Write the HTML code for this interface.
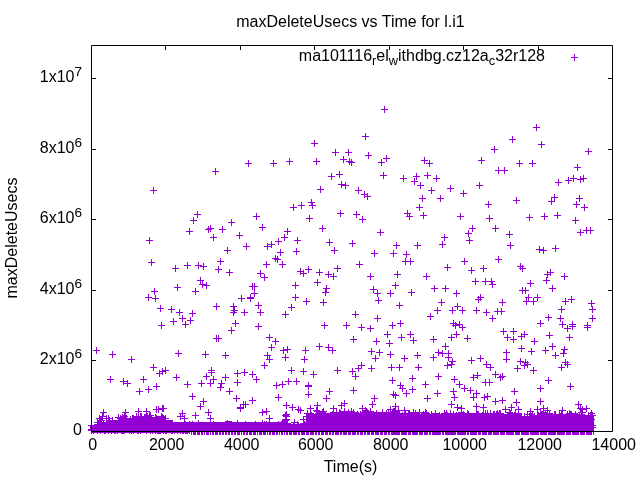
<!DOCTYPE html><html><head><meta charset="utf-8"><style>html,body{margin:0;padding:0;background:#fff;overflow:hidden}svg{display:block}text{font-family:"Liberation Sans",Arial,sans-serif;fill:#000}</style></head><body>
<svg width="640" height="480" viewBox="0 0 640 480">
<rect x="0" y="0" width="640" height="480" fill="#fff"/>
<path fill="none" stroke="#000" stroke-width="1" d="M165.5 431v-4M165.5 46v4M240.5 431v-4M240.5 46v4M314.5 431v-4M314.5 46v4M389.5 431v-4M389.5 46v4M463.5 431v-4M463.5 46v4M538.5 431v-4M538.5 46v4M92 360.5h4M612 360.5h-4M92 290.5h4M612 290.5h-4M92 219.5h4M612 219.5h-4M92 149.5h4M612 149.5h-4M92 78.5h4M612 78.5h-4"/>
<polygon fill="#9400d3" points="91,431 91,425 94,425 94,424 97,424 97,420 101,420 101,422 106,422 106,420 118,420 118,418 127,418 127,420 131,420 131,418 135,418 135,416 151,416 151,420 154,420 154,418 166,418 166,420 172,420 172,422 225,422 225,421 232,421 232,422 282,422 282,424 300,424 300,423 306,423 306,418 308,418 308,414 316,414 316,412 320,412 320,413 330,413 330,412 345,412 345,413 360,413 360,412 372,412 372,412 380,412 380,412 400,412 400,414 420,414 420,414 450,414 450,413 476,413 476,415 480,415 480,413 500,413 500,414 520,414 520,416 540,416 540,414 555,414 555,415 562,415 562,414 568,414 568,413 578,413 578,414 585,414 585,415 590,415 590,416 594,416 594,431"/>
<rect fill="#9400d3" x="90" y="425" width="1" height="6"/>
<path fill="none" stroke="#9400d3" stroke-width="1" d="M381 109.5h7M384.5 106v7M362 136.5h7M365.5 133v7M533 127.5h7M536.5 124v7M509 139.5h7M512.5 136v7M150 190.5h7M153.5 187v7M212 171.5h7M215.5 168v7M194 214.5h7M197.5 211v7M190 220.5h7M193.5 217v7M186 231.5h7M189.5 228v7M205 229.5h7M208.5 226v7M207 228.5h7M210.5 225v7M210 237.5h7M213.5 234v7M311 143.5h7M314.5 140v7M245 163.5h7M248.5 160v7M270 163.5h7M273.5 160v7M286 161.5h7M289.5 158v7M313 161.5h7M316.5 158v7M308 202.5h7M311.5 199v7M309 205.5h7M312.5 202v7M290 207.5h7M293.5 204v7M298 205.5h7M301.5 202v7M337 213.5h7M340.5 210v7M253 216.5h7M256.5 213v7M228 222.5h7M231.5 219v7M219 229.5h7M222.5 226v7M259 227.5h7M262.5 224v7M306 218.5h7M309.5 215v7M236 235.5h7M239.5 232v7M284 231.5h7M287.5 228v7M319 228.5h7M322.5 225v7M281 237.5h7M284.5 234v7M332 152.5h7M335.5 149v7M345 152.5h7M348.5 149v7M340 159.5h7M343.5 156v7M346 161.5h7M349.5 158v7M348 162.5h7M351.5 159v7M365 155.5h7M368.5 152v7M378 162.5h7M381.5 159v7M383 158.5h7M386.5 155v7M380 175.5h7M383.5 172v7M328 176.5h7M331.5 173v7M336 174.5h7M339.5 171v7M338 184.5h7M341.5 181v7M342 185.5h7M345.5 182v7M317 189.5h7M320.5 186v7M355 190.5h7M358.5 187v7M361 194.5h7M364.5 191v7M364 196.5h7M367.5 193v7M478 160.5h7M481.5 157v7M400 178.5h7M403.5 175v7M460 193.5h7M463.5 190v7M476 185.5h7M479.5 182v7M416 207.5h7M419.5 204v7M404 213.5h7M407.5 210v7M406 216.5h7M409.5 213v7M420 215.5h7M423.5 212v7M353 214.5h7M356.5 211v7M359 219.5h7M362.5 216v7M457 216.5h7M460.5 213v7M377 232.5h7M380.5 229v7M469 228.5h7M472.5 225v7M465 233.5h7M468.5 230v7M441 237.5h7M444.5 234v7M421 160.5h7M424.5 157v7M426 163.5h7M429.5 160v7M413 176.5h7M416.5 173v7M411 181.5h7M414.5 178v7M417 185.5h7M420.5 182v7M424 175.5h7M427.5 172v7M433 178.5h7M436.5 175v7M428 190.5h7M431.5 187v7M447 188.5h7M450.5 185v7M419 198.5h7M422.5 195v7M437 198.5h7M440.5 195v7M538 144.5h7M541.5 141v7M491 149.5h7M494.5 146v7M585 151.5h7M588.5 148v7M516 163.5h7M519.5 160v7M529 163.5h7M532.5 160v7M495 170.5h7M498.5 167v7M501 170.5h7M504.5 167v7M574 167.5h7M577.5 164v7M485 204.5h7M488.5 201v7M513 200.5h7M516.5 197v7M486 218.5h7M489.5 215v7M526 217.5h7M529.5 214v7M541 216.5h7M544.5 213v7M554 215.5h7M557.5 212v7M572 220.5h7M575.5 217v7M492 228.5h7M495.5 225v7M506 234.5h7M509.5 231v7M577 232.5h7M580.5 229v7M583 230.5h7M586.5 227v7M587 230.5h7M590.5 227v7M555 182.5h7M558.5 179v7M565 180.5h7M568.5 177v7M570 178.5h7M573.5 175v7M577 179.5h7M580.5 176v7M580 178.5h7M583.5 175v7M551 197.5h7M554.5 194v7M548 201.5h7M551.5 198v7M576 198.5h7M579.5 195v7M573 204.5h7M576.5 201v7M581 207.5h7M584.5 204v7M146 240.5h7M149.5 237v7M148 262.5h7M151.5 259v7M157 308.5h7M160.5 305v7M168 309.5h7M171.5 306v7M176 312.5h7M179.5 309v7M189 313.5h7M192.5 310v7M179 318.5h7M182.5 315v7M187 320.5h7M190.5 317v7M182 324.5h7M185.5 321v7M170 321.5h7M173.5 318v7M158 325.5h7M161.5 322v7M213 306.5h7M216.5 303v7M213 338.5h7M216.5 335v7M172 268.5h7M175.5 265v7M184 265.5h7M187.5 262v7M195 265.5h7M198.5 262v7M200 266.5h7M203.5 263v7M215 269.5h7M218.5 266v7M197 280.5h7M200.5 277v7M199 284.5h7M202.5 281v7M203 285.5h7M206.5 282v7M174 287.5h7M177.5 284v7M192 291.5h7M195.5 288v7M151 291.5h7M154.5 288v7M145 297.5h7M148.5 294v7M152 298.5h7M155.5 295v7M224 250.5h7M227.5 247v7M243 246.5h7M246.5 243v7M264 246.5h7M267.5 243v7M268 244.5h7M271.5 241v7M275 241.5h7M278.5 238v7M294 240.5h7M297.5 237v7M277 252.5h7M280.5 249v7M293 251.5h7M296.5 248v7M272 258.5h7M275.5 255v7M274 259.5h7M277.5 256v7M279 264.5h7M282.5 261v7M263 264.5h7M266.5 261v7M217 261.5h7M220.5 258v7M226 272.5h7M229.5 269v7M257 273.5h7M260.5 270v7M261 277.5h7M264.5 274v7M249 286.5h7M252.5 283v7M251 286.5h7M254.5 283v7M251 293.5h7M254.5 290v7M292 285.5h7M295.5 282v7M326 242.5h7M329.5 239v7M331 250.5h7M334.5 247v7M349 243.5h7M352.5 240v7M356 264.5h7M359.5 261v7M297 271.5h7M300.5 268v7M300 273.5h7M303.5 270v7M305 269.5h7M308.5 266v7M316 272.5h7M319.5 269v7M325 274.5h7M328.5 271v7M330 276.5h7M333.5 273v7M334 268.5h7M337.5 265v7M314 282.5h7M317.5 279v7M323 288.5h7M326.5 285v7M322 292.5h7M325.5 289v7M238 298.5h7M241.5 295v7M247 297.5h7M250.5 294v7M292 297.5h7M295.5 294v7M230 306.5h7M233.5 303v7M231 310.5h7M234.5 307v7M230 312.5h7M233.5 309v7M241 312.5h7M244.5 309v7M255 305.5h7M258.5 302v7M257 312.5h7M260.5 309v7M288 307.5h7M291.5 304v7M282 314.5h7M285.5 311v7M232 323.5h7M235.5 320v7M228 330.5h7M231.5 327v7M255 326.5h7M258.5 323v7M266 337.5h7M269.5 334v7M272 341.5h7M275.5 338v7M268 347.5h7M271.5 344v7M303 301.5h7M306.5 298v7M320 302.5h7M323.5 299v7M352 314.5h7M355.5 311v7M321 325.5h7M324.5 322v7M343 325.5h7M346.5 322v7M358 327.5h7M361.5 324v7M350 339.5h7M353.5 336v7M316 346.5h7M319.5 343v7M325 347.5h7M328.5 344v7M439 244.5h7M442.5 241v7M393 245.5h7M396.5 242v7M414 245.5h7M417.5 242v7M371 253.5h7M374.5 250v7M390 253.5h7M393.5 250v7M403 254.5h7M406.5 251v7M402 261.5h7M405.5 258v7M407 261.5h7M410.5 258v7M367 276.5h7M370.5 273v7M394 274.5h7M397.5 271v7M423 276.5h7M426.5 273v7M392 285.5h7M395.5 282v7M370 289.5h7M373.5 286v7M374 293.5h7M377.5 290v7M387 293.5h7M390.5 290v7M408 292.5h7M411.5 289v7M431 288.5h7M434.5 285v7M442 288.5h7M445.5 285v7M466 240.5h7M469.5 237v7M507 245.5h7M510.5 242v7M461 261.5h7M464.5 258v7M495 259.5h7M498.5 256v7M444 267.5h7M447.5 264v7M468 270.5h7M471.5 267v7M480 268.5h7M483.5 265v7M517 266.5h7M520.5 263v7M519 268.5h7M522.5 265v7M472 281.5h7M475.5 278v7M482 281.5h7M485.5 278v7M488 281.5h7M491.5 278v7M489 284.5h7M492.5 281v7M453 293.5h7M456.5 290v7M519 290.5h7M522.5 287v7M536 249.5h7M539.5 246v7M540 250.5h7M543.5 247v7M552 248.5h7M555.5 245v7M547 272.5h7M550.5 269v7M544 274.5h7M547.5 271v7M543 280.5h7M546.5 277v7M561 276.5h7M564.5 273v7M527 283.5h7M530.5 280v7M549 288.5h7M552.5 285v7M522 290.5h7M525.5 287v7M215 338.5h7M218.5 335v7M175 353.5h7M178.5 350v7M202 354.5h7M205.5 351v7M93 350.5h7M96.5 347v7M109 354.5h7M112.5 351v7M128 359.5h7M131.5 356v7M150 367.5h7M153.5 364v7M156 373.5h7M159.5 370v7M159 371.5h7M162.5 368v7M162 370.5h7M165.5 367v7M107 379.5h7M110.5 376v7M120 381.5h7M123.5 378v7M124 383.5h7M127.5 380v7M140 379.5h7M143.5 376v7M153 386.5h7M156.5 383v7M145 389.5h7M148.5 386v7M136 391.5h7M139.5 388v7M222 355.5h7M225.5 352v7M173 377.5h7M176.5 374v7M184 384.5h7M187.5 381v7M189 396.5h7M192.5 393v7M198 383.5h7M201.5 380v7M203 376.5h7M206.5 373v7M208 370.5h7M211.5 367v7M208 372.5h7M211.5 369v7M210 379.5h7M213.5 376v7M207 383.5h7M210.5 380v7M222 377.5h7M225.5 374v7M218 383.5h7M221.5 380v7M217 387.5h7M220.5 384v7M226 391.5h7M229.5 388v7M234 373.5h7M237.5 370v7M234 382.5h7M237.5 379v7M233 398.5h7M236.5 395v7M280 350.5h7M283.5 347v7M284 349.5h7M287.5 346v7M302 350.5h7M305.5 347v7M264 355.5h7M267.5 352v7M266 359.5h7M269.5 356v7M282 357.5h7M285.5 354v7M301 359.5h7M304.5 356v7M261 365.5h7M264.5 362v7M241 372.5h7M244.5 369v7M249 374.5h7M252.5 371v7M253 379.5h7M256.5 376v7M288 370.5h7M291.5 367v7M300 371.5h7M303.5 368v7M310 374.5h7M313.5 371v7M285 381.5h7M288.5 378v7M293 381.5h7M296.5 378v7M273 385.5h7M276.5 382v7M279 384.5h7M282.5 381v7M305 385.5h7M308.5 382v7M305 386.5h7M308.5 383v7M305 394.5h7M308.5 391v7M275 397.5h7M278.5 394v7M329 350.5h7M332.5 347v7M373 341.5h7M376.5 338v7M368 351.5h7M371.5 348v7M376 352.5h7M379.5 349v7M372 358.5h7M375.5 355v7M358 365.5h7M361.5 362v7M355 368.5h7M358.5 365v7M349 371.5h7M352.5 368v7M352 376.5h7M355.5 373v7M368 368.5h7M371.5 365v7M334 370.5h7M337.5 367v7M326 391.5h7M329.5 388v7M350 390.5h7M353.5 387v7M323 398.5h7M326.5 395v7M371 398.5h7M374.5 395v7M375 300.5h7M378.5 297v7M396 305.5h7M399.5 302v7M438 302.5h7M441.5 299v7M434 310.5h7M437.5 307v7M427 316.5h7M430.5 313v7M374 318.5h7M377.5 315v7M389 325.5h7M392.5 322v7M397 323.5h7M400.5 320v7M367 328.5h7M370.5 325v7M384 334.5h7M387.5 331v7M398 337.5h7M401.5 334v7M407 334.5h7M410.5 331v7M410 340.5h7M413.5 337v7M386 343.5h7M389.5 340v7M430 339.5h7M433.5 336v7M442 346.5h7M445.5 343v7M475 299.5h7M478.5 296v7M477 297.5h7M480.5 294v7M499 302.5h7M502.5 299v7M454 306.5h7M457.5 303v7M449 310.5h7M452.5 307v7M459 310.5h7M462.5 307v7M473 310.5h7M476.5 307v7M483 312.5h7M486.5 309v7M494 311.5h7M497.5 308v7M498 311.5h7M501.5 308v7M489 318.5h7M492.5 315v7M450 323.5h7M453.5 320v7M452 325.5h7M455.5 322v7M456 324.5h7M459.5 321v7M459 327.5h7M462.5 324v7M453 334.5h7M456.5 331v7M448 337.5h7M451.5 334v7M464 338.5h7M467.5 335v7M500 331.5h7M503.5 328v7M510 331.5h7M513.5 328v7M504 337.5h7M507.5 334v7M510 339.5h7M513.5 336v7M518 336.5h7M521.5 333v7M521 334.5h7M524.5 331v7M518 348.5h7M521.5 345v7M525 297.5h7M528.5 294v7M534 297.5h7M537.5 294v7M523 301.5h7M526.5 298v7M530 301.5h7M533.5 298v7M562 301.5h7M565.5 298v7M568 299.5h7M571.5 296v7M588 303.5h7M591.5 300v7M558 309.5h7M561.5 306v7M589 309.5h7M592.5 306v7M545 317.5h7M548.5 314v7M557 318.5h7M560.5 315v7M589 318.5h7M592.5 315v7M537 323.5h7M540.5 320v7M559 324.5h7M562.5 321v7M569 324.5h7M572.5 321v7M564 328.5h7M567.5 325v7M569 326.5h7M572.5 323v7M584 325.5h7M587.5 322v7M584 327.5h7M587.5 324v7M546 335.5h7M549.5 332v7M566 337.5h7M569.5 334v7M531 341.5h7M534.5 338v7M549 346.5h7M552.5 343v7M561 349.5h7M564.5 346v7M387 354.5h7M390.5 351v7M401 358.5h7M404.5 355v7M414 355.5h7M417.5 352v7M430 357.5h7M433.5 354v7M435 352.5h7M438.5 349v7M439 353.5h7M442.5 350v7M445 353.5h7M448.5 350v7M445 357.5h7M448.5 354v7M449 361.5h7M452.5 358v7M444 365.5h7M447.5 362v7M448 364.5h7M451.5 361v7M388 367.5h7M391.5 364v7M396 367.5h7M399.5 364v7M415 367.5h7M418.5 364v7M389 380.5h7M392.5 377v7M409 378.5h7M412.5 375v7M435 376.5h7M438.5 373v7M451 379.5h7M454.5 376v7M456 384.5h7M459.5 381v7M422 384.5h7M425.5 381v7M397 385.5h7M400.5 382v7M399 388.5h7M402.5 385v7M409 389.5h7M412.5 386v7M403 393.5h7M406.5 390v7M390 394.5h7M393.5 391v7M392 395.5h7M395.5 392v7M434 393.5h7M437.5 390v7M450 391.5h7M453.5 388v7M451 397.5h7M454.5 394v7M424 398.5h7M427.5 395v7M528 351.5h7M531.5 348v7M503 352.5h7M506.5 349v7M503 359.5h7M506.5 356v7M468 360.5h7M471.5 357v7M477 358.5h7M480.5 355v7M483 364.5h7M486.5 361v7M487 367.5h7M490.5 364v7M517 361.5h7M520.5 358v7M522 362.5h7M525.5 359v7M524 364.5h7M527.5 361v7M521 365.5h7M524.5 362v7M514 368.5h7M517.5 365v7M530 370.5h7M533.5 367v7M492 374.5h7M495.5 371v7M497 377.5h7M500.5 374v7M499 376.5h7M502.5 373v7M470 377.5h7M473.5 374v7M474 375.5h7M477.5 372v7M482 382.5h7M485.5 379v7M486 382.5h7M489.5 379v7M461 388.5h7M464.5 385v7M467 390.5h7M470.5 387v7M473 393.5h7M476.5 390v7M470 397.5h7M473.5 394v7M481 397.5h7M484.5 394v7M484 396.5h7M487.5 393v7M511 391.5h7M514.5 388v7M542 350.5h7M545.5 347v7M552 355.5h7M555.5 352v7M560 353.5h7M563.5 350v7M562 362.5h7M565.5 359v7M564 364.5h7M567.5 361v7M558 367.5h7M561.5 364v7M545 380.5h7M548.5 377v7M567 386.5h7M570.5 383v7M537 388.5h7M540.5 385v7M247 298.5h7M250.5 295v7M100 412.5h7M103.5 409v7M122 412.5h7M125.5 409v7M135 411.5h7M138.5 408v7M143 411.5h7M146.5 408v7M153 409.5h7M156.5 406v7M155 409.5h7M158.5 406v7M159 408.5h7M162.5 405v7M96 418.5h7M99.5 415v7M99 416.5h7M102.5 413v7M200 401.5h7M203.5 398v7M197 406.5h7M200.5 403v7M160 408.5h7M163.5 405v7M237 408.5h7M240.5 405v7M205 412.5h7M208.5 409v7M192 415.5h7M195.5 412v7M207 418.5h7M210.5 415v7M179 413.5h7M182.5 410v7M177 416.5h7M180.5 413v7M181 418.5h7M184.5 415v7M158 416.5h7M161.5 413v7M249 400.5h7M252.5 397v7M240 404.5h7M243.5 401v7M242 404.5h7M245.5 401v7M237 407.5h7M240.5 404v7M283 405.5h7M286.5 402v7M289 407.5h7M292.5 404v7M295 409.5h7M298.5 406v7M297 410.5h7M300.5 407v7M307 408.5h7M310.5 405v7M304 413.5h7M307.5 410v7M259 412.5h7M262.5 409v7M263 411.5h7M266.5 408v7M266 418.5h7M269.5 415v7M282 415.5h7M285.5 412v7M282 419.5h7M285.5 416v7M300 419.5h7M303.5 416v7M314 405.5h7M317.5 402v7M341 403.5h7M344.5 400v7M338 405.5h7M341.5 402v7M369 404.5h7M372.5 401v7M359 408.5h7M362.5 405v7M330 408.5h7M333.5 405v7M448 404.5h7M451.5 401v7M392 406.5h7M395.5 403v7M454 407.5h7M457.5 404v7M458 408.5h7M461.5 405v7M401 410.5h7M404.5 407v7M387 409.5h7M390.5 406v7M492 401.5h7M495.5 398v7M499 400.5h7M502.5 397v7M513 402.5h7M516.5 399v7M537 401.5h7M540.5 398v7M473 406.5h7M476.5 403v7M480 407.5h7M483.5 404v7M508 407.5h7M511.5 404v7M502 409.5h7M505.5 406v7M515 409.5h7M518.5 406v7M527 411.5h7M530.5 408v7M534 409.5h7M537.5 406v7M575 404.5h7M578.5 401v7M577 408.5h7M580.5 405v7M583 408.5h7M586.5 405v7M579 409.5h7M582.5 406v7M559 410.5h7M562.5 407v7M544 410.5h7M547.5 407v7M540 408.5h7M543.5 405v7M88 425.5h7M91.5 422v7M88 429.5h7M91.5 426v7M88 430.5h7M91.5 427v7M283 414.5h7M286.5 411v7M282 415.5h7M285.5 412v7M283 416.5h7M286.5 413v7M283 419.5h7M286.5 416v7M282 420.5h7M285.5 417v7M94 422.5h7M97.5 419v7M97 420.5h7M100.5 417v7M98 420.5h7M101.5 417v7M100 424.5h7M103.5 421v7M103 418.5h7M106.5 415v7M105 418.5h7M108.5 415v7M106 420.5h7M109.5 417v7M109 420.5h7M112.5 417v7M115 417.5h7M118.5 414v7M117 418.5h7M120.5 415v7M119 417.5h7M122.5 414v7M120 418.5h7M123.5 415v7M121 416.5h7M124.5 413v7M123 418.5h7M126.5 415v7M125 421.5h7M128.5 418v7M127 419.5h7M130.5 416v7M129 418.5h7M132.5 415v7M130 418.5h7M133.5 415v7M131 419.5h7M134.5 416v7M133 416.5h7M136.5 413v7M135 418.5h7M138.5 415v7M137 416.5h7M140.5 413v7M138 416.5h7M141.5 413v7M141 417.5h7M144.5 414v7M142 417.5h7M145.5 414v7M144 416.5h7M147.5 413v7M146 415.5h7M149.5 412v7M147 415.5h7M150.5 412v7M148 419.5h7M151.5 416v7M149 420.5h7M152.5 417v7M150 421.5h7M153.5 418v7M152 417.5h7M155.5 414v7M153 418.5h7M156.5 415v7M154 419.5h7M157.5 416v7M155 420.5h7M158.5 417v7M156 420.5h7M159.5 417v7M158 419.5h7M161.5 416v7M159 417.5h7M162.5 414v7M160 418.5h7M163.5 415v7M162 418.5h7M165.5 415v7M163 424.5h7M166.5 421v7M165 423.5h7M168.5 420v7M169 423.5h7M172.5 420v7M171 426.5h7M174.5 423v7M173 425.5h7M176.5 422v7M178 425.5h7M181.5 422v7M182 424.5h7M185.5 421v7M184 425.5h7M187.5 422v7M186 424.5h7M189.5 421v7M187 425.5h7M190.5 422v7M189 424.5h7M192.5 421v7M190 425.5h7M193.5 422v7M195 423.5h7M198.5 420v7M200 425.5h7M203.5 422v7M206 425.5h7M209.5 422v7M208 426.5h7M211.5 423v7M210 424.5h7M213.5 421v7M223 425.5h7M226.5 422v7M224 423.5h7M227.5 420v7M232 425.5h7M235.5 422v7M233 425.5h7M236.5 422v7M234 423.5h7M237.5 420v7M235 426.5h7M238.5 423v7M236 425.5h7M239.5 422v7M241 425.5h7M244.5 422v7M242 424.5h7M245.5 421v7M247 425.5h7M250.5 422v7M249 425.5h7M252.5 422v7M252 424.5h7M255.5 421v7M256 425.5h7M259.5 422v7M259 423.5h7M262.5 420v7M261 424.5h7M264.5 421v7M262 425.5h7M265.5 422v7M263 424.5h7M266.5 421v7M273 425.5h7M276.5 422v7M274 426.5h7M277.5 423v7M275 424.5h7M278.5 421v7M278 424.5h7M281.5 421v7M279 424.5h7M282.5 421v7M280 424.5h7M283.5 421v7M281 423.5h7M284.5 420v7M284 423.5h7M287.5 420v7M290 426.5h7M293.5 423v7M291 422.5h7M294.5 419v7M294 424.5h7M297.5 421v7M295 425.5h7M298.5 422v7M300 423.5h7M303.5 420v7M301 424.5h7M304.5 421v7M302 425.5h7M305.5 422v7M303 416.5h7M306.5 413v7M304 419.5h7M307.5 416v7M307 413.5h7M310.5 410v7M308 415.5h7M311.5 412v7M313 410.5h7M316.5 407v7M314 411.5h7M317.5 408v7M315 413.5h7M318.5 410v7M319 412.5h7M322.5 409v7M320 411.5h7M323.5 408v7M321 414.5h7M324.5 411v7M329 414.5h7M332.5 411v7M333 412.5h7M336.5 409v7M336 412.5h7M339.5 409v7M337 413.5h7M340.5 410v7M341 411.5h7M344.5 408v7M345 412.5h7M348.5 409v7M348 411.5h7M351.5 408v7M350 412.5h7M353.5 409v7M353 415.5h7M356.5 412v7M354 414.5h7M357.5 411v7M355 415.5h7M358.5 412v7M357 414.5h7M360.5 411v7M359 413.5h7M362.5 410v7M362 410.5h7M365.5 407v7M363 411.5h7M366.5 408v7M364 412.5h7M367.5 409v7M365 413.5h7M368.5 410v7M366 414.5h7M369.5 411v7M367 411.5h7M370.5 408v7M373 413.5h7M376.5 410v7M379 412.5h7M382.5 409v7M383 413.5h7M386.5 410v7M385 413.5h7M388.5 410v7M387 412.5h7M390.5 409v7M389 412.5h7M392.5 409v7M390 411.5h7M393.5 408v7M391 411.5h7M394.5 408v7M392 413.5h7M395.5 410v7M395 410.5h7M398.5 407v7M396 413.5h7M399.5 410v7M399 415.5h7M402.5 412v7M402 413.5h7M405.5 410v7M404 416.5h7M407.5 413v7M405 413.5h7M408.5 410v7M406 413.5h7M409.5 410v7M410 412.5h7M413.5 409v7M411 416.5h7M414.5 413v7M412 413.5h7M415.5 410v7M413 416.5h7M416.5 413v7M414 415.5h7M417.5 412v7M415 415.5h7M418.5 412v7M416 412.5h7M419.5 409v7M418 416.5h7M421.5 413v7M419 415.5h7M422.5 412v7M420 414.5h7M423.5 411v7M422 412.5h7M425.5 409v7M423 413.5h7M426.5 410v7M428 414.5h7M431.5 411v7M432 413.5h7M435.5 410v7M436 415.5h7M439.5 412v7M441 413.5h7M444.5 410v7M442 415.5h7M445.5 412v7M443 413.5h7M446.5 410v7M444 415.5h7M447.5 412v7M447 413.5h7M450.5 410v7M450 414.5h7M453.5 411v7M453 415.5h7M456.5 412v7M458 412.5h7M461.5 409v7M460 414.5h7M463.5 411v7M464 413.5h7M467.5 410v7M465 414.5h7M468.5 411v7M473 413.5h7M476.5 410v7M474 414.5h7M477.5 411v7M475 414.5h7M478.5 411v7M479 415.5h7M482.5 412v7M480 414.5h7M483.5 411v7M482 413.5h7M485.5 410v7M484 413.5h7M487.5 410v7M487 413.5h7M490.5 410v7M490 414.5h7M493.5 411v7M491 414.5h7M494.5 411v7M493 414.5h7M496.5 411v7M494 413.5h7M497.5 410v7M495 415.5h7M498.5 412v7M496 413.5h7M499.5 410v7M497 413.5h7M500.5 410v7M504 415.5h7M507.5 412v7M506 412.5h7M509.5 409v7M507 413.5h7M510.5 410v7M508 416.5h7M511.5 413v7M509 415.5h7M512.5 412v7M511 415.5h7M514.5 412v7M512 413.5h7M515.5 410v7M515 413.5h7M518.5 410v7M517 417.5h7M520.5 414v7M518 416.5h7M521.5 413v7M521 416.5h7M524.5 413v7M524 414.5h7M527.5 411v7M526 416.5h7M529.5 413v7M527 414.5h7M530.5 411v7M528 416.5h7M531.5 413v7M529 415.5h7M532.5 412v7M531 416.5h7M534.5 413v7M533 418.5h7M536.5 415v7M534 417.5h7M537.5 414v7M535 415.5h7M538.5 412v7M537 413.5h7M540.5 410v7M538 414.5h7M541.5 411v7M539 414.5h7M542.5 411v7M540 413.5h7M543.5 410v7M541 415.5h7M544.5 412v7M542 413.5h7M545.5 410v7M543 415.5h7M546.5 412v7M546 413.5h7M549.5 410v7M547 416.5h7M550.5 413v7M551 414.5h7M554.5 411v7M552 414.5h7M555.5 411v7M556 414.5h7M559.5 411v7M557 416.5h7M560.5 413v7M558 414.5h7M561.5 411v7M559 416.5h7M562.5 413v7M564 414.5h7M567.5 411v7M566 413.5h7M569.5 410v7M567 414.5h7M570.5 411v7M568 414.5h7M571.5 411v7M572 414.5h7M575.5 411v7M576 416.5h7M579.5 413v7M578 412.5h7M581.5 409v7M579 412.5h7M582.5 409v7M585 415.5h7M588.5 412v7M587 415.5h7M590.5 412v7M588 413.5h7M591.5 410v7M589 415.5h7M592.5 412v7M587 417.5h7M590.5 414v7M588 419.5h7M591.5 416v7M587 421.5h7M590.5 418v7M587 423.5h7M590.5 420v7M589 425.5h7M592.5 422v7M589 427.5h7M592.5 424v7M587 429.5h7M590.5 426v7M91.5 432v2M92.5 432v1M93.5 432v2M94.5 432v1M95.5 432v1M96.5 432v1M97.5 432v2M98.5 432v1M99.5 432v1M100.5 432v2M101.5 432v1M102.5 432v1M103.5 432v1M104.5 432v2M105.5 432v2M106.5 432v1M107.5 432v1M108.5 432v2M109.5 432v1M110.5 432v1M111.5 432v2M112.5 432v1M113.5 432v1M114.5 432v2M115.5 432v2M116.5 432v1M117.5 432v2M118.5 432v1M119.5 432v1M120.5 432v1M121.5 432v2M122.5 432v2M123.5 432v2M124.5 432v2M125.5 432v1M126.5 432v1M127.5 432v1M128.5 432v1M129.5 432v2M130.5 432v1M131.5 432v2M132.5 432v1M133.5 432v2M134.5 432v1M135.5 432v1M136.5 432v1M137.5 432v2M138.5 432v2M139.5 432v1M140.5 432v2M141.5 432v1M142.5 432v1M143.5 432v1M144.5 432v1M145.5 432v1M146.5 432v2M147.5 432v1M148.5 432v1M149.5 432v1M150.5 432v2M151.5 432v1M152.5 432v2M153.5 432v1M154.5 432v1M155.5 432v2M156.5 432v1M157.5 432v2M158.5 432v2M159.5 432v2M160.5 432v2M161.5 432v1M162.5 432v1M163.5 432v2M164.5 432v1M165.5 432v2M166.5 432v2M167.5 432v1M168.5 432v1M169.5 432v1M170.5 432v1M171.5 432v2M172.5 432v2M173.5 432v1M174.5 432v2M175.5 432v1M176.5 432v1M177.5 432v2M178.5 432v1M179.5 432v1M180.5 432v2M181.5 432v1M182.5 432v2M183.5 432v2M184.5 432v1M185.5 432v2M186.5 432v2M187.5 432v2M188.5 432v1M189.5 432v2M191.5 432v3M193.5 432v3M194.5 432v3M195.5 432v3M197.5 432v3M198.5 432v3M199.5 432v3M201.5 432v3M202.5 432v3M204.5 432v3M206.5 432v3M207.5 432v3M208.5 432v3M210.5 432v3M212.5 432v3M213.5 432v3M215.5 432v3M216.5 432v3M217.5 432v3M219.5 432v3M220.5 432v3M222.5 432v3M223.5 432v3M225.5 432v3M226.5 432v3M228.5 432v3M229.5 432v3M231.5 432v3M232.5 432v3M234.5 432v3M235.5 432v3M237.5 432v3M238.5 432v3M239.5 432v3M241.5 432v3M243.5 432v3M244.5 432v3M246.5 432v3M247.5 432v3M249.5 432v3M250.5 432v3M251.5 432v3M253.5 432v3M254.5 432v3M255.5 432v3M257.5 432v3M259.5 432v3M260.5 432v3M261.5 432v3M263.5 432v3M264.5 432v3M265.5 432v3M267.5 432v3M269.5 432v3M270.5 432v3M272.5 432v3M273.5 432v3M274.5 432v3M276.5 432v3M277.5 432v3M279.5 432v3M281.5 432v3M282.5 432v3M284.5 432v3M286.5 432v3M287.5 432v3M289.5 432v3M290.5 432v3M291.5 432v3M293.5 432v3M294.5 432v3M295.5 432v3M296.5 432v3M298.5 432v3M299.5 432v3M301.5 432v3M302.5 432v3M303.5 432v3M304.5 432v3M306.5 432v3M307.5 432v3M308.5 432v3M310.5 432v3M311.5 432v3M312.5 432v3M313.5 432v3M315.5 432v3M316.5 432v3M318.5 432v3M319.5 432v3M321.5 432v3M322.5 432v3M323.5 432v3M325.5 432v3M326.5 432v3M327.5 432v3M329.5 432v3M330.5 432v3M332.5 432v3M333.5 432v3M335.5 432v3M336.5 432v3M337.5 432v3M338.5 432v3M340.5 432v3M341.5 432v3M343.5 432v3M344.5 432v3M345.5 432v3M346.5 432v3M348.5 432v3M349.5 432v3M350.5 432v3M352.5 432v3M353.5 432v3M354.5 432v3M355.5 432v3M357.5 432v3M358.5 432v3M360.5 432v3M361.5 432v3M362.5 432v3M364.5 432v3M365.5 432v3M367.5 432v3M368.5 432v3M369.5 432v3M371.5 432v3M372.5 432v3M373.5 432v3M375.5 432v3M376.5 432v3M377.5 432v3M378.5 432v3M380.5 432v3M381.5 432v3M382.5 432v3M384.5 432v3M385.5 432v3M386.5 432v3M388.5 432v3M389.5 432v3M391.5 432v3M392.5 432v3M393.5 432v3M394.5 432v3M395.5 432v3M396.5 432v3M397.5 432v3M398.5 432v3M399.5 432v3M401.5 432v3M402.5 432v3M403.5 432v3M404.5 432v3M405.5 432v3M406.5 432v3M408.5 432v3M409.5 432v3M410.5 432v3M412.5 432v3M413.5 432v3M414.5 432v3M415.5 432v3M416.5 432v3M417.5 432v3M419.5 432v3M420.5 432v3M421.5 432v3M422.5 432v3M424.5 432v3M425.5 432v3M426.5 432v3M427.5 432v3M429.5 432v3M430.5 432v3M432.5 432v3M433.5 432v3M434.5 432v3M435.5 432v3M436.5 432v3M437.5 432v3M438.5 432v3M439.5 432v3M440.5 432v3M442.5 432v3M443.5 432v3M445.5 432v3M446.5 432v3M447.5 432v3M448.5 432v3M449.5 432v3M450.5 432v3M451.5 432v3M452.5 432v3M453.5 432v3M454.5 432v3M455.5 432v3M457.5 432v3M458.5 432v3M459.5 432v3M460.5 432v3M461.5 432v3M462.5 432v3M463.5 432v3M464.5 432v3M465.5 432v3M467.5 432v3M468.5 432v3M470.5 432v3M471.5 432v3M472.5 432v3M473.5 432v3M474.5 432v3M475.5 432v3M476.5 432v3M478.5 432v3M479.5 432v3M480.5 432v3M482.5 432v3M483.5 432v3M484.5 432v3M485.5 432v3M486.5 432v3M488.5 432v3M489.5 432v3M490.5 432v3M491.5 432v3M493.5 432v3M494.5 432v3M495.5 432v3M496.5 432v3M497.5 432v3M498.5 432v3M500.5 432v3M501.5 432v3M502.5 432v3M503.5 432v3M504.5 432v3M506.5 432v3M507.5 432v3M508.5 432v3M509.5 432v3M510.5 432v3M511.5 432v3M512.5 432v3M513.5 432v3M515.5 432v3M516.5 432v3M517.5 432v3M518.5 432v3M519.5 432v3M521.5 432v3M522.5 432v3M523.5 432v3M524.5 432v3M525.5 432v3M526.5 432v3M527.5 432v3M528.5 432v3M530.5 432v3M531.5 432v3M532.5 432v3M533.5 432v3M534.5 432v3M535.5 432v3M536.5 432v3M537.5 432v3M538.5 432v3M540.5 432v3M541.5 432v3M542.5 432v3M543.5 432v3M544.5 432v3M545.5 432v3M546.5 432v3M548.5 432v3M549.5 432v3M550.5 432v3M551.5 432v3M552.5 432v3M553.5 432v3M554.5 432v3M555.5 432v3M557.5 432v3M558.5 432v3M559.5 432v3M560.5 432v3M561.5 432v3M562.5 432v3M563.5 432v3M564.5 432v3M566.5 432v3M567.5 432v3M568.5 432v3M569.5 432v3M570.5 432v3M572.5 432v3M573.5 432v3M574.5 432v3M575.5 432v3M576.5 432v3M577.5 432v3M578.5 432v3M580.5 432v3M581.5 432v3M582.5 432v3M583.5 432v3M584.5 432v3M586.5 432v3M587.5 432v3M588.5 432v3M589.5 432v3M590.5 432v3M591.5 432v3M593.5 432v3"/>
<path fill="none" stroke="#000" stroke-width="1" d="M91.5 45.5H612.5V431.5H91.5Z"/>
<text x="82" y="434.5" text-anchor="end" font-size="16">0</text>
<text x="82" y="363.5" text-anchor="end" font-size="16">2x10<tspan font-size="13.6" dy="-6">6</tspan></text>
<text x="82" y="293.5" text-anchor="end" font-size="16">4x10<tspan font-size="13.6" dy="-6">6</tspan></text>
<text x="82" y="222.5" text-anchor="end" font-size="16">6x10<tspan font-size="13.6" dy="-6">6</tspan></text>
<text x="82" y="152.5" text-anchor="end" font-size="16">8x10<tspan font-size="13.6" dy="-6">6</tspan></text>
<text x="82" y="81.5" text-anchor="end" font-size="16">1x10<tspan font-size="13.6" dy="-6">7</tspan></text>
<text x="92.7" y="450" text-anchor="middle" font-size="16">0</text>
<text x="166.7" y="450" text-anchor="middle" font-size="16">2000</text>
<text x="241.7" y="450" text-anchor="middle" font-size="16">4000</text>
<text x="315.7" y="450" text-anchor="middle" font-size="16">6000</text>
<text x="390.7" y="450" text-anchor="middle" font-size="16">8000</text>
<text x="464.7" y="450" text-anchor="middle" font-size="16">10000</text>
<text x="539.7" y="450" text-anchor="middle" font-size="16">12000</text>
<text x="613.7" y="450" text-anchor="middle" font-size="16">14000</text>
<text x="350.5" y="27" text-anchor="middle" font-size="16">maxDeleteUsecs vs Time for l.i1</text>
<text x="350.5" y="471.5" text-anchor="middle" font-size="16">Time(s)</text>
<text transform="translate(17,238) rotate(-90)" text-anchor="middle" font-size="16">maxDeleteUsecs</text>
<text x="545" y="60.5" text-anchor="end" font-size="16">ma101116<tspan font-size="12.8" dy="4">r</tspan><tspan dy="-4">el</tspan><tspan font-size="12.8" dy="4">w</tspan><tspan dy="-4">ithdbg.cz12a</tspan><tspan font-size="12.8" dy="4">c</tspan><tspan dy="-4">32r128</tspan></text>
<path fill="none" stroke="#9400d3" stroke-width="1" d="M571 57.5h7M574.5 54v7"/>
</svg></body></html>
